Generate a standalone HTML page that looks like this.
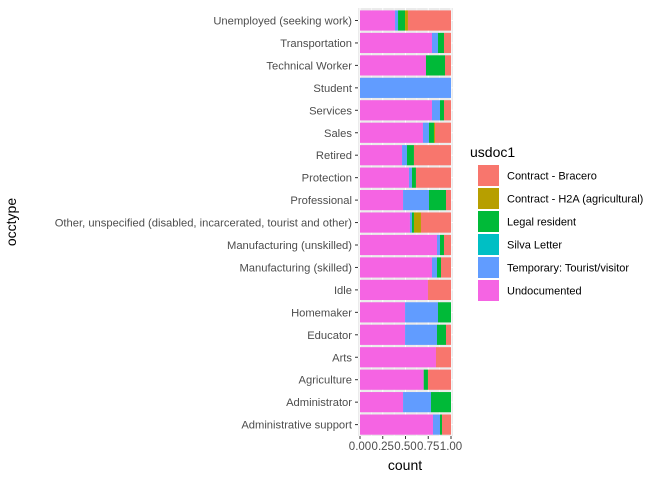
<!DOCTYPE html>
<html><head><meta charset="utf-8"><style>
body{margin:0;background:#fff;}
svg text{font-family:"Liberation Sans",sans-serif;}
</style></head><body>
<svg id="chart" width="672" height="480" xmlns="http://www.w3.org/2000/svg">
<rect x="358" y="8" width="95" height="428" fill="#EBEBEB"/>
<g id="grid"></g><g id="bars"></g><g id="yaxis"></g><g id="xaxis"></g>
<text x="405" y="470" font-size="14" text-anchor="middle" fill="#000">count</text>
<text transform="translate(16,222) rotate(-90)" font-size="14" text-anchor="middle" fill="#000">occtype</text>
<g id="legend">
<text x="470" y="157" font-size="14" fill="#000">usdoc1</text>
</g>
</svg>
<script>
const categories=["Unemployed (seeking work)","Transportation","Technical Worker","Student","Services","Sales","Retired","Protection","Professional","Other, unspecified (disabled, incarcerated, tourist and other)","Manufacturing (unskilled)","Manufacturing (skilled)","Idle","Homemaker","Educator","Arts","Agriculture","Administrator","Administrative support"];
const seriesNames=["Undocumented","Temporary: Tourist/visitor","Silva Letter","Legal resident","Contract - H2A (agricultural)","Contract - Bracero"];
const undocumented=[.385,.791,.725,0,.791,.692,.462,.538,.473,.549,.846,.791,.747,.495,.495,.835,.70,.473,.802];
const temporary=[.033,.066,0,1,.088,.066,.054,.033,.285,.022,.033,.055,0,.362,.351,0,0,.307,.077];
const silva=[0,0,0,0,0,0,0,0,0,0,0,0,0,0,0,0,0,0,0];
const legal=[.077,.066,.209,0,.044,.055,.077,.044,.187,.022,.044,.044,0,.143,.099,0,.047,.220,.022];
const h2a=[.032,0,0,0,0,.011,0,0,0,.077,0,0,0,0,0,0,0,0,0];
const bracero=[.473,.077,.066,0,.077,.176,.407,.385,.055,.330,.077,.110,.253,0,.055,.165,.253,0,.099];
const xTicks=[0,0.25,0.5,0.75,1];
const xTickLabels=["0.00","0.25","0.50","0.75","1.00"];
const series=[undocumented,temporary,silva,legal,h2a,bracero];
const colors=["#F564E3","#619CFF","#00BFC4","#00BA38","#B79F00","#F8766D"];
const NS="http://www.w3.org/2000/svg";
const x0=360,x1=451,yTop=20.5,step=22.45,bh=20.2;
const xs=v=>x0+v*(x1-x0);
const ys=i=>yTop+i*step;
function mk(tag,attrs,parent){const e=document.createElementNS(NS,tag);for(const k in attrs)e.setAttribute(k,attrs[k]);parent.appendChild(e);return e;}
const grid=document.getElementById('grid'),bars=document.getElementById('bars'),ya=document.getElementById('yaxis'),xa=document.getElementById('xaxis'),lg=document.getElementById('legend');
for(let k=0;k<xTicks.length-1;k++){const m=(xTicks[k]+xTicks[k+1])/2;const l=mk('line',{x1:xs(m),x2:xs(m),y1:8,y2:436,stroke:'#fff','stroke-width':0.5},grid);

}
xTicks.forEach((t,k)=>{const l=mk('line',{x1:xs(t),x2:xs(t),y1:8,y2:436,stroke:'#fff','stroke-width':1},grid);


const tk=mk('line',{x1:xs(t),x2:xs(t),y1:436,y2:439,stroke:'#333','stroke-width':1},xa);


const tx=mk('text',{x:xs(t),y:450,'font-size':11.5,'text-anchor':'middle',fill:'#4D4D4D'},xa);tx.textContent=xTickLabels[k];

});
categories.forEach((c,i)=>{const y=ys(i);
const g=mk('line',{x1:358,x2:453,y1:y,y2:y,stroke:'#fff','stroke-width':1},grid);


let acc=0;series.forEach((s,j)=>{const v=s[i];if(v>0){const r=mk('rect',{x:xs(acc),y:y-bh/2,width:xs(acc+v)-xs(acc),height:bh,fill:colors[j]},bars);

}acc+=v;});
const tk=mk('line',{x1:355,x2:358,y1:y,y2:y,stroke:'#333','stroke-width':1},ya);


const t=mk('text',{x:352,y:y+4,'font-size':11.2,'text-anchor':'end',fill:'#4D4D4D'},ya);t.textContent=c;

});
const legendOrder=[5,4,3,2,1,0];
legendOrder.forEach((j,k)=>{const y=165+k*23;
const r=mk('rect',{x:478,y:y,width:21,height:21,fill:colors[j]},lg);


const t=mk('text',{x:507,y:y+14.5,'font-size':11,fill:'#000'},lg);t.textContent=seriesNames[j];

});
</script>
</body></html>
